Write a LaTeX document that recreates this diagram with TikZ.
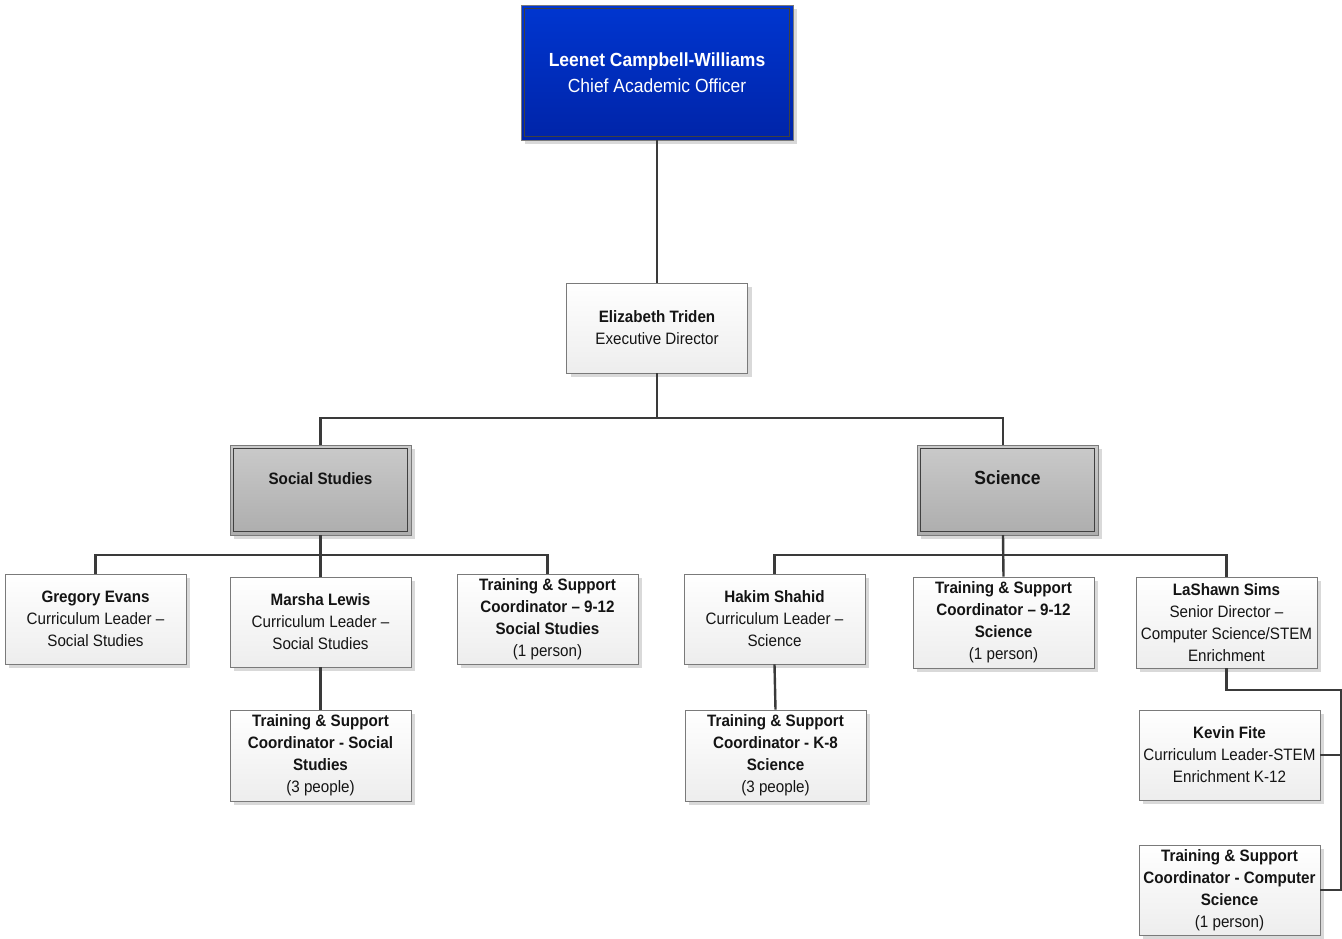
\documentclass[tikz,border=0pt]{standalone}
\usepackage{fontspec}
\setmainfont{Liberation Sans}[FakeStretch=0.92]
\usetikzlibrary{shadows,calc}
\definecolor{conncol}{HTML}{3A3A3A}
\definecolor{boxline}{HTML}{7A7A7A}
\definecolor{bluetop}{HTML}{0036D0}
\definecolor{bluebot}{HTML}{0024A8}
\definecolor{graytop}{HTML}{CACACA}
\definecolor{graybot}{HTML}{ADADAD}
\definecolor{txt}{HTML}{141414}
\tikzset{
  conn/.style={draw=conncol, line width=2.4pt},
  card/.style={draw=boxline, line width=0.9pt, top color=white, bottom color=gray!14,
    minimum width=181pt, minimum height=90pt, align=center, inner sep=0pt,
    text=txt, font=\fontsize{16.5}{22}\selectfont,
    drop shadow={shadow xshift=4pt, shadow yshift=-4pt, fill=gray!30, opacity=1}},
  headcard/.style={card, top color=graytop, bottom color=graybot},
  topcard/.style={card, top color=bluetop, bottom color=bluebot, text=white,
    minimum width=272pt, minimum height=135pt, font=\fontsize{19}{26}\selectfont},
  innerline/.style={draw=black!75, line width=0.8pt}
}
\begin{document}
\begin{tikzpicture}[x=1pt,y=-1pt]
\useasboundingbox (0,0) rectangle (1342,938);
% nodes
\node[topcard] (top) at (657,72.5) {\textbf{Leenet Campbell-Williams}\\Chief Academic Officer};
\draw[innerline] ([shift={(4pt,-4pt)}]top.north west) rectangle ([shift={(-4pt,4pt)}]top.south east);
\node[card] (eliz) at (657,328) {\textbf{Elizabeth Triden}\\Executive Director};
\node[headcard] (ss) at (320.5,490) {\smash{\raisebox{6pt}{\textbf{Social Studies}}}};
\draw[innerline] ([shift={(4pt,-4pt)}]ss.north west) rectangle ([shift={(-4pt,4pt)}]ss.south east);
\node[headcard, font=\fontsize{19}{24}\selectfont] (sci) at (1007.5,490) {\smash{\raisebox{6pt}{\textbf{Science}}}};
\draw[innerline] ([shift={(4pt,-4pt)}]sci.north west) rectangle ([shift={(-4pt,4pt)}]sci.south east);

\node[card] (greg) at (95.5,619) {\textbf{Gregory Evans}\\Curriculum Leader –\\Social Studies};
\node[card] (marsha) at (320.5,622) {\textbf{Marsha Lewis}\\Curriculum Leader –\\Social Studies};
\node[card] (tss912) at (547.5,619) {\textbf{Training \& Support}\\\textbf{Coordinator – 9-12}\\\textbf{Social Studies}\\(1 person)};
\node[card, minimum height=91pt] (tssoc) at (320.5,755.5) {\textbf{Training \& Support}\\\textbf{Coordinator - Social}\\\textbf{Studies}\\(3 people)};

\node[card] (hakim) at (774.5,619) {\textbf{Hakim Shahid}\\Curriculum Leader –\\Science};
\node[card, minimum height=91pt] (tsk8) at (775.5,755.5) {\textbf{Training \& Support}\\\textbf{Coordinator - K-8}\\\textbf{Science}\\(3 people)};
\node[card, minimum height=91pt] (tsci912) at (1003.5,622.5) {\textbf{Training \& Support}\\\textbf{Coordinator – 9-12}\\\textbf{Science}\\(1 person)};
\node[card, minimum height=91pt] (lashawn) at (1226.5,622.5) {\textbf{LaShawn Sims}\\Senior Director –\\Computer Science/STEM\\Enrichment};
\node[card] (kevin) at (1229.5,755) {\textbf{Kevin Fite}\\Curriculum Leader-STEM\\Enrichment K-12};
\node[card] (tscs) at (1229.5,890) {\textbf{Training \& Support}\\\textbf{Coordinator - Computer}\\\textbf{Science}\\(1 person)};

% connectors
\coordinate (j1) at (657,418);
\coordinate (scitop) at (1003,445);
\coordinate (scibot) at (1003,535);
\draw[conn] (top.south) -- (eliz.north);
\draw[conn] (eliz.south) -- (j1);
\draw[conn] (ss.north) |- (j1) -| (scitop);

\coordinate (b1) at (320.5,555);
\draw[conn] (ss.south) -- (marsha.north);
\draw[conn] (greg.north) |- (b1) -| (tss912.north);
\draw[conn] (marsha.south) -- (tssoc.north);

\coordinate (b2) at (1003.5,555);
\draw[conn] (scibot) -- (tsci912.north);
\draw[conn] (hakim.north) |- (b2) -| (lashawn.north);
\draw[conn] (hakim.south) -- (tsk8.north);

\coordinate (rx) at (1341,690);
\draw[conn] (lashawn.south) |- (rx) |- (tscs.east);
\draw[conn] (kevin.east) -- (kevin.east -| rx);
\end{tikzpicture}
\end{document}
